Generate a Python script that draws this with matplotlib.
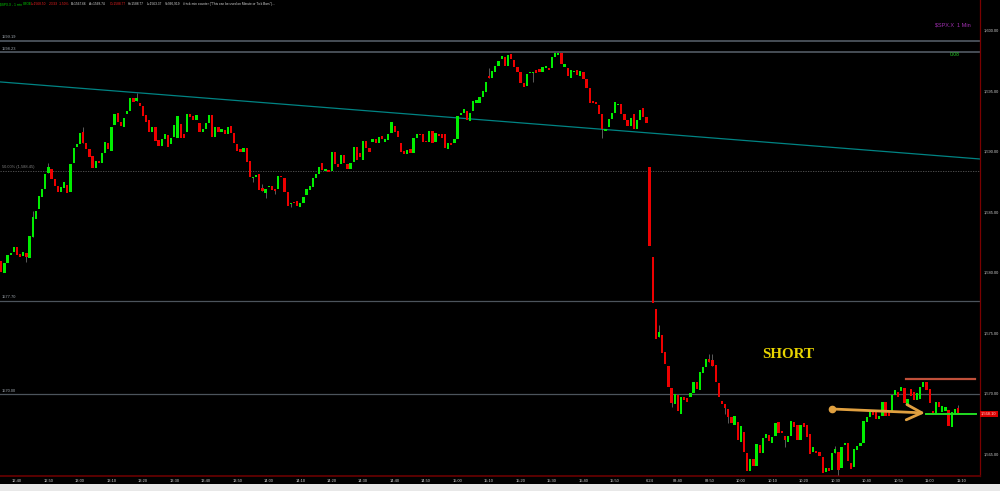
import matplotlib.pyplot as plt
from matplotlib.patches import Rectangle

# 1-min $SPX.X candles, 6/23 afternoon then 6/24 morning
opens = [
    # 6/23 12:35 - 16:00
    1580.99, 1580.00, 1580.83, 1581.49, 1581.74, 1582.15, 1581.57, 1581.40, 1581.65, 1581.24,
    1582.98, 1584.46, 1585.29, 1586.28, 1586.94, 1588.26, 1588.59, 1587.77, 1587.19, 1586.69,
    1587.02, 1587.27, 1586.69, 1589.09, 1590.41, 1590.66, 1591.65, 1590.74, 1590.25, 1589.67,
    1588.68, 1589.26, 1589.09, 1589.92, 1590.74, 1590.08, 1592.23, 1593.22, 1592.48, 1592.07,
    1593.14, 1593.39, 1594.46, 1594.22, 1594.05, 1593.80, 1593.06, 1592.64, 1591.65, 1592.07,
    1590.99, 1590.50, 1591.07, 1591.41, 1590.66, 1591.24, 1591.16, 1592.31, 1591.49, 1591.65,
    1593.14, 1592.98, 1592.64, 1592.40, 1591.65, 1591.90, 1592.40, 1593.06, 1591.24, 1592.07,
    1591.65, 1591.82, 1591.49, 1592.15, 1591.57, 1590.66, 1590.25, 1590.00, 1590.33, 1589.26,
    1587.85, 1587.93, 1588.18, 1587.02, 1586.61, 1587.11, 1587.19, 1586.94, 1586.94, 1588.02,
    1587.85, 1586.69, 1585.70, 1585.87, 1585.95, 1585.45, 1585.79, 1586.45, 1586.86, 1587.11,
    1587.85, 1588.18, 1589.09, 1588.43, 1588.51, 1588.43, 1590.00, 1589.01, 1589.01, 1589.75,
    1589.01, 1588.59, 1589.17, 1590.41, 1589.92, 1589.34, 1590.91, 1590.33, 1590.83, 1591.07,
    1590.74, 1591.32, 1590.83, 1590.99, 1591.57, 1592.15, 1591.74, 1590.74, 1590.08, 1589.84,
    1590.25, 1589.92, 1591.16, 1591.49, 1591.49, 1590.91, 1590.83, 1591.74, 1590.83, 1591.49,
    1591.49, 1591.49, 1590.25, 1590.74, 1590.74, 1591.07, 1593.06, 1593.22, 1593.39, 1592.56,
    1593.39, 1594.05, 1594.05, 1594.55, 1594.96, 1596.28, 1596.12, 1596.61, 1597.11, 1597.69,
    1597.85, 1597.11, 1598.10, 1597.60, 1597.02, 1596.61, 1595.70, 1595.45, 1596.53, 1596.53,
    1596.78, 1596.86, 1596.61, 1596.94, 1596.94, 1596.94, 1597.85, 1598.02, 1598.18, 1597.02,
    1596.94, 1596.12, 1596.61, 1596.78, 1596.28, 1596.61, 1596.03, 1595.29, 1594.22, 1594.13,
    1593.89, 1593.14, 1591.74, 1592.07, 1592.73, 1593.22, 1593.89, 1593.97, 1593.14, 1592.64,
    1592.15, 1593.14, 1591.90, 1592.64, 1593.64, 1592.89,
    # 6/24 from the open
    1588.76, 1581.32, 1577.02, 1574.70, 1574.87, 1573.47, 1572.31, 1570.50, 1569.17, 1569.92,
    1568.35, 1569.75, 1569.67, 1569.75, 1570.08, 1570.99, 1570.33, 1571.74, 1572.23, 1572.89,
    1572.81, 1572.40, 1570.91, 1569.42, 1569.17, 1568.76, 1568.10, 1567.44, 1567.69, 1566.03,
    1566.86, 1565.12, 1563.64, 1564.63, 1564.05, 1565.79, 1565.12, 1566.36, 1566.61, 1565.95,
    1566.53, 1567.69, 1566.94, 1566.53, 1566.03, 1566.53, 1567.69, 1567.44, 1566.20, 1567.60,
    1567.44, 1566.69, 1565.21, 1565.29, 1565.21, 1564.79, 1563.55, 1563.88, 1563.72, 1565.12,
    1565.21, 1563.88, 1565.79, 1565.95, 1564.30, 1563.97, 1565.37, 1565.70, 1565.95, 1567.69,
    1568.10, 1568.51, 1568.51, 1567.93, 1568.18, 1569.34, 1568.60, 1568.51, 1569.92, 1570.17,
    1570.25, 1570.50, 1569.17, 1570.41, 1570.17, 1569.50, 1569.59, 1570.58, 1570.99, 1570.41,
    1568.60, 1568.35, 1569.34, 1568.51, 1568.60, 1568.68, 1567.27, 1568.43, 1568.85,
]
closes = [
    1580.08, 1580.83, 1581.49, 1581.65, 1582.15, 1581.49, 1581.32, 1581.74, 1581.32, 1583.06,
    1584.63, 1585.12, 1586.36, 1586.94, 1588.18, 1588.76, 1587.77, 1587.19, 1586.69, 1587.11,
    1587.52, 1586.61, 1589.01, 1590.33, 1590.66, 1591.57, 1590.74, 1590.25, 1589.59, 1588.68,
    1589.26, 1589.09, 1589.92, 1590.83, 1590.25, 1592.07, 1593.14, 1592.48, 1592.15, 1592.81,
    1593.39, 1594.46, 1594.13, 1594.46, 1593.80, 1592.98, 1592.48, 1591.65, 1592.07, 1590.91,
    1590.50, 1591.07, 1591.49, 1590.41, 1591.16, 1592.23, 1592.98, 1591.16, 1591.16, 1593.14,
    1592.89, 1592.64, 1593.06, 1591.65, 1591.90, 1592.40, 1593.06, 1591.24, 1592.07, 1591.65,
    1591.90, 1591.49, 1592.07, 1591.57, 1590.74, 1590.08, 1590.00, 1590.33, 1589.17, 1587.93,
    1587.93, 1588.10, 1586.86, 1586.78, 1586.94, 1587.19, 1586.86, 1586.78, 1588.02, 1587.93,
    1586.69, 1585.54, 1585.79, 1585.79, 1585.54, 1585.79, 1586.28, 1586.94, 1587.19, 1587.85,
    1588.18, 1588.76, 1588.51, 1588.59, 1588.35, 1590.00, 1589.01, 1588.76, 1589.75, 1589.09,
    1588.59, 1589.09, 1590.41, 1589.34, 1589.59, 1590.91, 1590.33, 1590.00, 1591.07, 1590.74,
    1591.24, 1591.07, 1591.07, 1591.49, 1592.48, 1591.65, 1591.24, 1590.00, 1589.84, 1590.17,
    1589.92, 1591.16, 1591.49, 1591.41, 1590.83, 1590.83, 1591.74, 1590.74, 1591.57, 1591.32,
    1591.16, 1590.33, 1590.74, 1590.58, 1591.07, 1592.98, 1593.22, 1593.55, 1592.64, 1593.22,
    1594.22, 1594.30, 1594.55, 1595.04, 1595.79, 1596.12, 1596.69, 1597.11, 1597.52, 1597.93,
    1597.11, 1598.02, 1597.69, 1597.02, 1596.61, 1595.70, 1595.37, 1596.45, 1596.61, 1596.61,
    1596.53, 1596.61, 1597.02, 1597.11, 1596.78, 1597.85, 1598.18, 1598.18, 1597.27, 1597.27,
    1596.28, 1596.78, 1596.69, 1596.36, 1596.69, 1596.03, 1595.29, 1594.05, 1594.05, 1593.97,
    1593.14, 1591.90, 1591.90, 1592.73, 1593.22, 1594.13, 1593.97, 1593.14, 1592.64, 1592.15,
    1592.81, 1591.90, 1592.64, 1593.47, 1592.89, 1592.40,
    1582.23, 1577.52, 1574.54, 1575.12, 1573.39, 1572.48, 1570.58, 1569.26, 1570.00, 1568.60,
    1569.75, 1569.50, 1569.34, 1570.08, 1570.99, 1570.41, 1571.82, 1572.23, 1572.89, 1572.64,
    1572.31, 1570.99, 1569.75, 1569.17, 1568.85, 1568.10, 1567.60, 1568.18, 1566.20, 1567.36,
    1565.21, 1563.64, 1564.63, 1564.05, 1565.87, 1565.12, 1566.36, 1566.69, 1566.12, 1566.45,
    1567.60, 1566.78, 1566.78, 1566.20, 1566.53, 1567.77, 1567.27, 1566.20, 1567.44, 1567.27,
    1566.45, 1565.04, 1565.62, 1565.12, 1564.88, 1563.47, 1563.88, 1563.64, 1565.12, 1565.45,
    1563.72, 1565.62, 1565.95, 1564.46, 1563.80, 1565.45, 1565.70, 1565.95, 1567.77, 1568.10,
    1568.51, 1568.26, 1567.93, 1568.18, 1569.34, 1568.18, 1568.18, 1569.92, 1570.33, 1569.75,
    1570.58, 1569.26, 1569.59, 1569.83, 1569.50, 1570.08, 1570.58, 1570.99, 1570.33, 1569.26,
    1568.43, 1569.34, 1568.93, 1569.01, 1568.93, 1567.36, 1568.51, 1568.76, 1568.43,
]
# wicks that stick out past the body (bar index -> price)
wick_hi = {10: 1585.12, 15: 1589.09, 26: 1592.07, 43: 1594.88, 83: 1587.36, 155: 1596.94,
           209: 1575.70, 225: 1573.31, 226: 1573.31, 265: 1565.70, 304: 1569.09}
wick_lo = {8: 1580.91, 80: 1587.52, 84: 1586.20, 87: 1586.53, 92: 1585.45, 169: 1595.79,
           191: 1591.16, 213: 1568.93, 230: 1568.35, 231: 1567.60, 249: 1565.62, 266: 1563.30}

day1_len = 206
tick_labels = ['12:40', '12:50', '13:00', '13:10', '13:20', '13:30', '13:40', '13:50', '14:00',
               '14:10', '14:20', '14:30', '14:40', '14:50', '15:00', '15:10', '15:20', '15:30',
               '15:40', '15:50', '6/24', '09:40', '09:50', '10:00', '10:10', '10:20', '10:30',
               '10:40', '10:50', '11:00', '11:10']
price_ticks = [1565, 1570, 1575, 1580, 1585, 1590, 1595, 1600]

# horizontal study lines
levels = [1599.19, 1598.23, 1577.70, 1570.00]
fib_50 = 1588.45
trend_start = (-0.4, 1595.79)
trend_end = (311.0, 1589.42)
last_price = 1568.10
resist_level = 1571.24
support_level = 1568.35

fig = plt.figure(figsize=(10, 4.91), dpi=100, facecolor='black')
ax = fig.add_axes([0, 15 / 491, 0.98, 476 / 491], facecolor='black')
ax.set_xlim(-0.4, 311.0)
ax.set_ylim(1563.22, 1602.56)

font = 'Liberation Sans'

# levels
for lv in levels[:2]:
    ax.axhline(lv, color='#4c545c', lw=1.3, zorder=1)
for lv in levels[2:]:
    ax.axhline(lv, color='#4c545c', lw=0.9, zorder=1)
ax.axhline(fib_50, color='#5a5a5a', lw=0.6, ls=(0, (1.5, 1.5)), zorder=1)
for lv in levels:
    ax.text(0.3, lv + 0.12, f'{lv:.2f}', color='#a0a8b0', fontsize=2.9, family=font,
            va='bottom', ha='left')
ax.text(0.3, fib_50 + 0.12, f'50.00% (1,{fib_50 - 1000:.2f})', color='#808080', fontsize=2.9,
        family=font, va='bottom', ha='left')

ax.plot([trend_start[0], trend_end[0]], [trend_start[1], trend_end[1]], color='#008484', lw=0.9,
        zorder=2)

# candles
for i, (o, c) in enumerate(zip(opens, closes)):
    hi = wick_hi.get(i, max(o, c))
    lo = wick_lo.get(i, min(o, c))
    if hi > max(o, c) or lo < min(o, c):
        ax.vlines(i, lo, hi, color='#6a6a6a', lw=0.6, zorder=3)
    col = '#00ee00' if c >= o else '#ee0000'
    h = max(abs(c - o), 0.06)
    ax.bar(i, h, bottom=min(o, c), width=0.72, color=col, lw=0, zorder=4)

# drawings
ax.plot([287.5, 309.4], [resist_level, resist_level], color='#c0503a', lw=1.6, zorder=5)
ax.plot([293.9, 309.7], [support_level, support_level], color='#22dd22', lw=1.4, zorder=5)
ax.annotate('', xy=(293.5, 1568.43), xytext=(263.9, 1568.76),
            arrowprops=dict(arrowstyle='->,head_length=1.1,head_width=0.55', color='#e0a040',
                            lw=2.0, shrinkA=0, shrinkB=0), zorder=6)
ax.plot(263.9, 1568.76, 'o', color='#e0a040', ms=4.5, zorder=6)

ax.text(241.7, 1573.3, 'SHORT', color='#e8d400', fontsize=10.8, family='Liberation Serif',
        fontweight='bold', va='center', ha='left')

# right price scale
ytr = ax.get_yaxis_transform()
for p in price_ticks:
    ax.text(1.0035, p, f'{p:,.2f}', transform=ytr, color='#c8c8c8', fontsize=2.9, family=font,
            va='center', ha='left', clip_on=False)
ax.text(1.001, support_level, f'{last_price:,.2f}', transform=ytr, color='#ffd0d0', fontsize=2.9,
        family=font, va='center', ha='left', clip_on=False,
        bbox=dict(boxstyle='square,pad=0.35', fc='#d80000', ec='none'))

# time scale
tick_pos = [5 + 10 * k for k in range(20)] + [day1_len] + [215 + 10 * k for k in range(10)]
xtr = ax.get_xaxis_transform()
for pos, lab in zip(tick_pos, tick_labels):
    ax.text(pos, -0.011, lab, transform=xtr, color='#d0d0d0', fontsize=2.9, family=font,
            va='center', ha='center', clip_on=False)

for s in ['top', 'left']:
    ax.spines[s].set_visible(False)
ax.spines['right'].set_color('#7a0000')
ax.spines['right'].set_linewidth(0.9)
ax.spines['bottom'].set_color('#5a0000')
ax.spines['bottom'].set_linewidth(1.4)
ax.set_xticks([])
ax.set_yticks([])

# header
header = [(0.5, '$SPX.X - 1 min', '#00cc00'), (22.5, 'CBOE', '#00cc00'),
          (30.5, 'L=1568.50', '#ee2020'), (49, '-23.93', '#ee2020'), (59, '-1.50%', '#ee2020'),
          (71, 'B=1567.66', '#d8d8d8'), (89, 'A=1568.74', '#d8d8d8'),
          (110, 'O=1588.77', '#ee2020'), (128, 'H=1588.77', '#d8d8d8'),
          (147, 'L=1563.37', '#d8d8d8'), (165, 'V=966,919', '#d8d8d8'),
          (183, '# tick-min counter ("This can be used on Minute or Tick Bars")...', '#d8d8d8')]
for x, t, c in header:
    fig.text(x / 1000, 1 - 4 / 491, t, color=c, fontsize=2.3, family=font, va='center', ha='left')

fig.text(935 / 1000, 1 - 25 / 491, '$SPX.X  1 Min', color='#a030b0', fontsize=4, family=font,
         va='center', ha='left')
fig.text(950 / 1000, 1 - 54 / 491, '0.08', color='#22cc22', fontsize=3.6, family=font,
         va='center', ha='left')

fig.patches.append(Rectangle((0, 0), 1, 7 / 491, transform=fig.transFigure, fc='#e8e8e8',
                             ec='none'))

fig.savefig('out.png', dpi=100, facecolor='black')
